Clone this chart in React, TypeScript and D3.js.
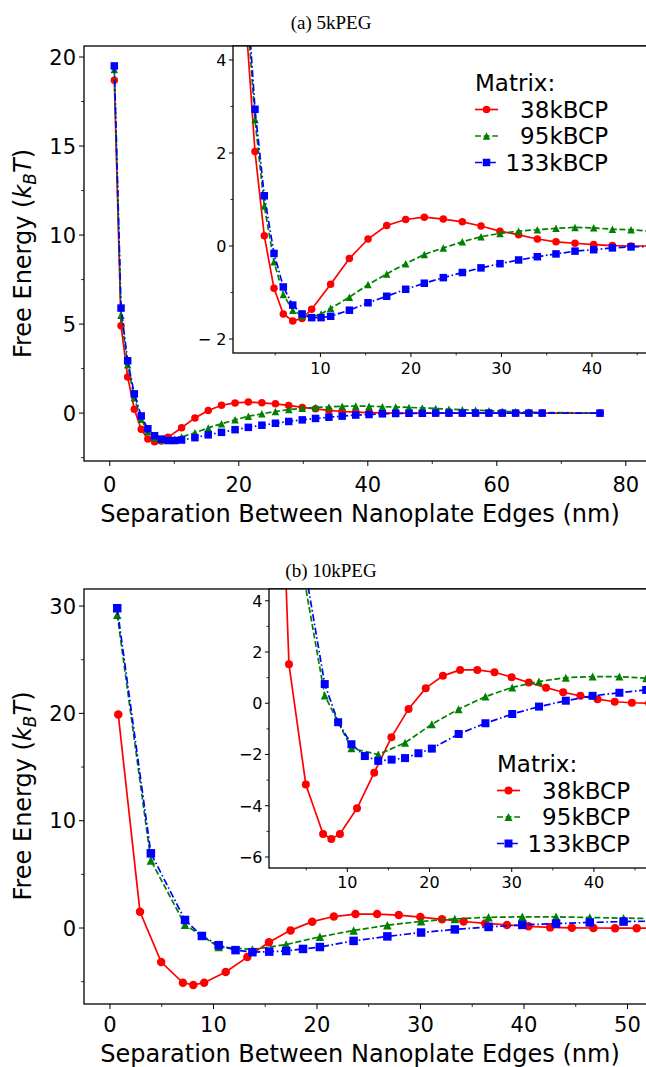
import React from 'react'
import * as d3 from 'd3'

// ---- panel (a) 5kPEG : separation (nm) and free energy (kBT)
const x5k = [0.7, 1.74, 2.77, 3.8, 4.87, 5.9, 6.94, 7.97, 9.03, 10.07, 11.13, 13.2, 15.26, 17.32, 19.42,
  21.48, 23.58, 25.68, 27.74, 29.84, 31.9, 33.97, 36.03, 38.13, 40.19, 42.26, 44.32, 46.39, 48.45,
  50.52, 52.58, 54.65, 56.71, 58.78, 60.84, 62.91, 64.97, 67.04, 76.0]
const red5k = [18.7, 4.9, 2.03, 0.22, -0.91, -1.46, -1.61, -1.56, -1.36, null, -0.82, -0.27, 0.15, 0.44, 0.57,
  0.62, 0.58, 0.52, 0.43, 0.32, 0.24, 0.15, 0.09, 0.06, 0.03, 0.01, 0.0, 0, 0, 0, 0, 0, 0, 0, 0, 0, 0, 0, 0]
const green5k = [19.3, 5.5, 2.72, 0.86, -0.34, -1.04, -1.38, -1.5, -1.53, -1.46, -1.34, -1.1, -0.83, -0.6, -0.38,
  -0.18, -0.04, 0.09, 0.2, 0.27, 0.32, 0.35, 0.38, 0.4, 0.39, 0.36, 0.35, 0.32, 0.29, 0.26, 0.22, 0.19,
  0.16, 0.13, 0.1, 0.08, 0.06, 0.04, 0.0]
const blue5k = [19.5, 5.9, 2.94, 1.08, -0.16, -0.88, -1.27, -1.46, -1.54, -1.54, -1.51, -1.38, -1.22, -1.08, -0.93,
  -0.8, -0.68, -0.57, -0.47, -0.38, -0.3, -0.23, -0.17, -0.11, -0.08, -0.04, -0.02, -0.01, -0.01, 0, 0, 0,
  0, 0, 0, 0, 0, 0, 0]

// ---- panel (b) 10kPEG
const xRed10k = [0.8, 2.9, 4.95, 7.05, 8.05, 9.1, 11.18, 13.27, 15.36, 17.45, 19.54, 21.63, 23.72, 25.81, 27.9,
  29.99, 32.08, 34.17, 36.26, 38.35, 40.44, 42.53, 44.62, 46.71, 48.8, 50.89, 52.98]
const red10k = [19.9, 1.52, -3.17, -5.1, -5.3, -5.1, -4.1, -2.71, -1.33, -0.22, 0.59, 1.07, 1.3, 1.3, 1.21,
  1.02, 0.81, 0.61, 0.43, 0.29, 0.16, 0.06, 0.02, 0.0, -0.01, -0.01, -0.01]
const xGreen10k = [0.7, 3.95, 7.25, 10.5, 13.76, 17.02, 20.28, 23.54, 26.8, 30.06, 33.32, 36.58, 39.84, 43.1,
  46.36, 49.62, 52.88]
const green10k = [29.2, 6.3, 0.3, -1.76, -2.0, -1.54, -0.82, -0.23, 0.26, 0.62, 0.85, 1.0, 1.04, 1.04, 0.98,
  0.92, 0.88]
const xBlue10k = [0.7, 3.95, 7.25, 8.88, 10.5, 12.13, 13.76, 15.39, 17.02, 18.65, 20.28, 23.54, 26.8, 30.06,
  33.32, 36.58, 39.84, 43.1, 46.36, 49.62, 52.88]
const blue10k = [29.8, 6.96, 0.75, -0.74, -1.6, -2.06, -2.25, -2.2, -2.14, -1.95, -1.77, -1.2, -0.78, -0.42,
  -0.13, 0.1, 0.29, 0.41, 0.52, 0.6, 0.65]

const seriesNames = ['38kBCP', '95kBCP', '133kBCP']
const seriesColors = ['#ff0000', '#008000', '#0000ff']
const seriesDash = ['', '6,2.6', '7,2.6,1.6,2.6']
const seriesMarker = ['circle', 'triangle', 'square']

const titles = ['(a) 5kPEG', '(b) 10kPEG']
const xAxisLabel = 'Separation Between Nanoplate Edges (nm)'

const ticksXMainA = [0, 20, 40, 60, 80]
const minorXMainA = [10, 30, 50, 70]
const ticksYMainA = [0, 5, 10, 15, 20]
const minorYMainA = [-2.5, 2.5, 7.5, 12.5, 17.5]
const ticksXInsetA = [10, 20, 30, 40]
const minorXInsetA = [5, 15, 25, 35, 45]
const ticksYInsetA = [-2, 0, 2, 4]
const minorYInsetA = [-1, 1, 3]

const ticksXMainB = [0, 10, 20, 30, 40, 50]
const minorXMainB = [5, 15, 25, 35, 45]
const ticksYMainB = [0, 10, 20, 30]
const minorYMainB = [-5, 5, 15, 25]
const ticksXInsetB = [10, 20, 30, 40]
const minorXInsetB = [5, 15, 25, 35, 45]
const ticksYInsetB = [-6, -4, -2, 0, 2, 4]
const minorYInsetB = [-5, -3, -1, 1, 3]

const FONT = '"DejaVu Sans", sans-serif'

const fmt = (v: number, gap = '') => (v < 0 ? '\u2212' + gap + Math.abs(v) : String(v))

function Marker({ kind, x, y, s, color }: any) {
    if (kind === 'circle') return <circle cx={x} cy={y} r={s / 2} fill={color} />
    if (kind === 'square') return <rect x={x - s / 2} y={y - s / 2} width={s} height={s} fill={color} />
    const h = s / 2
    return <polygon points={`${x},${y - h} ${x - h},${y + h} ${x + h},${y + h}`} fill={color} />
}

function makeSeries(xsList: number[][], ysList: (number | null)[][]) {
    return ysList.map((ys, i) => ({
        pts: ys.map((v, j) => [xsList[i][j], v]).filter(p => p[1] !== null) as [number, number][],
        color: seriesColors[i],
        dash: seriesDash[i],
        marker: seriesMarker[i]
    }))
}

function Axes(props: any) {
    const { id, box, xDom, yDom, xT, xM, yT, yM, series, fs, major, minor, ms, bg, xLabOff, yLabOff, gap } = props
    const x = d3.scaleLinear().domain(xDom).range([box.l, box.r])
    const y = d3.scaleLinear().domain(yDom).range([box.b, box.t])
    const line = d3.line<[number, number]>().x(d => x(d[0])).y(d => y(d[1]))
    return (
        <g>
            <defs>
                <clipPath id={id}><rect x={box.l} y={box.t} width={box.r - box.l} height={box.b - box.t} /></clipPath>
            </defs>
            {bg && <rect x={box.l} y={box.t} width={box.r - box.l} height={box.b - box.t} fill="#fff" />}
            <g clipPath={`url(#${id})`}>
                {series.map((s: any, i: number) => (
                    <g key={i}>
                        <path d={line(s.pts) || ''} fill="none" stroke={s.color} strokeWidth={1.7}
                            strokeDasharray={s.dash || undefined} />
                        {s.pts.map((p: [number, number], j: number) =>
                            <Marker key={j} kind={s.marker} x={x(p[0])} y={y(p[1])} s={ms} color={s.color} />)}
                    </g>
                ))}
            </g>
            <rect x={box.l} y={box.t} width={box.r - box.l} height={box.b - box.t} fill="none" stroke="#000" strokeWidth={1.3} />
            {xT.map((v: number) => (
                <g key={'xt' + v}>
                    <line x1={x(v)} x2={x(v)} y1={box.b} y2={box.b + major} stroke="#000" strokeWidth={1} />
                    <text x={x(v)} y={box.b + xLabOff} textAnchor="middle" fontSize={fs} fontFamily={FONT}>{fmt(v)}</text>
                </g>
            ))}
            {xM.map((v: number) => <line key={'xm' + v} x1={x(v)} x2={x(v)} y1={box.b} y2={box.b + minor} stroke="#000" strokeWidth={0.8} />)}
            {yT.map((v: number) => (
                <g key={'yt' + v}>
                    <line x1={box.l - major} x2={box.l} y1={y(v)} y2={y(v)} stroke="#000" strokeWidth={1} />
                    <text x={box.l - yLabOff} y={y(v) + fs * 0.36} textAnchor="end" fontSize={fs} fontFamily={FONT}>{fmt(v, gap)}</text>
                </g>
            ))}
            {yM.map((v: number) => <line key={'ym' + v} x1={box.l - minor} x2={box.l} y1={y(v)} y2={y(v)} stroke="#000" strokeWidth={0.8} />)}
        </g>
    )
}

function Legend({ x0, yTitle, rowGap, textEnd, ms }: any) {
    return (
        <g fontFamily={FONT} fontSize={23}>
            <text x={x0} y={yTitle + 8.3}>Matrix:</text>
            {seriesNames.map((n, i) => {
                const cy = yTitle + rowGap * (i + 1)
                return (
                    <g key={n}>
                        <line x1={x0} x2={x0 + 23} y1={cy} y2={cy} stroke={seriesColors[i]} strokeWidth={1.7}
                            strokeDasharray={seriesDash[i] || undefined} />
                        <Marker kind={seriesMarker[i]} x={x0 + 11.5} y={cy} s={ms} color={seriesColors[i]} />
                        <text x={textEnd} y={cy + 8.3} textAnchor="end">{n}</text>
                    </g>
                )
            })}
        </g>
    )
}

function YLabel({ cy }: any) {
    return (
        <text transform={`translate(31,${cy}) rotate(-90)`} textAnchor="middle" fontSize={24} fontFamily={FONT}>
            Free Energy (<tspan fontStyle="italic">k</tspan>
            <tspan fontStyle="italic" fontSize={17} dy={5}>B</tspan>
            <tspan fontStyle="italic" dy={-5}>T</tspan>)
        </text>
    )
}

export default function App() {
    const sA = makeSeries([x5k, x5k, x5k], [red5k, green5k, blue5k])
    const sB = makeSeries([xRed10k, xGreen10k, xBlue10k], [red10k, green10k, blue10k])
    return (
        <svg width={646} height={1067} style={{ position: 'absolute', left: 0, top: 0, background: '#fff' }}>
            <text x={331} y={29} textAnchor="middle" fontSize={19} fontFamily='"Liberation Serif", serif'>{titles[0]}</text>
            <Axes id="mainA" box={{ l: 84, t: 46, r: 652, b: 461 }} xDom={[-4, 84.06]} yDom={[-2.69, 20.62]}
                xT={ticksXMainA} xM={minorXMainA} yT={ticksYMainA} yM={minorYMainA} series={sA}
                fs={21} major={5} minor={3} ms={7.5} xLabOff={30.5} yLabOff={8} />
            <Axes id="insetA" box={{ l: 233, t: 46, r: 660, b: 353 }} xDom={[0.34, 47.52]} yDom={[-2.3, 4.3]}
                xT={ticksXInsetA} xM={minorXInsetA} yT={ticksYInsetA} yM={minorYInsetA} series={sA}
                fs={16} major={4} minor={2.5} ms={7.5} bg xLabOff={21} yLabOff={6.5} gap={' '} />
            <Legend x0={475} yTitle={83} rowGap={26.5} textEnd={608} ms={7.5} />
            <YLabel cy={253.5} />
            <text x={360} y={521.5} textAnchor="middle" fontSize={24} fontFamily={FONT}>{xAxisLabel}</text>

            <text x={331} y={577} textAnchor="middle" fontSize={19} fontFamily='"Liberation Serif", serif'>{titles[1]}</text>
            <Axes id="mainB" box={{ l: 84, t: 589, r: 652, b: 1004 }} xDom={[-2.51, 52.37]} yDom={[-7.08, 31.59]}
                xT={ticksXMainB} xM={minorXMainB} yT={ticksYMainB} yM={minorYMainB} series={sB}
                fs={21} major={5} minor={3} ms={8.5} xLabOff={27.5} yLabOff={8} />
            <Axes id="insetB" box={{ l: 269, t: 589, r: 660, b: 868 }} xDom={[0.47, 48.04]} yDom={[-6.43, 4.46]}
                xT={ticksXInsetB} xM={minorXInsetB} yT={ticksYInsetB} yM={minorYInsetB} series={sB}
                fs={16} major={4} minor={2.5} ms={8} bg xLabOff={20} yLabOff={6.5} />
            <Legend x0={497} yTitle={764} rowGap={26.5} textEnd={630} ms={8} />
            <YLabel cy={796} />
            <text x={360} y={1062} textAnchor="middle" fontSize={24} fontFamily={FONT}>{xAxisLabel}</text>
        </svg>
    )
}
